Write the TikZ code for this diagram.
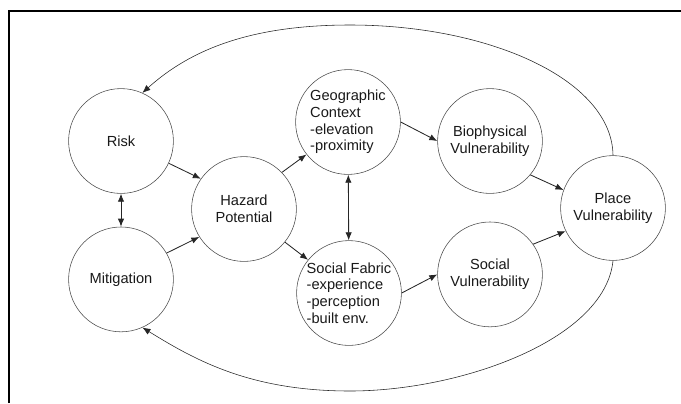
\documentclass[tikz,border=0pt]{standalone}
\usepackage{fontspec}
\setmainfont{Liberation Sans}
\usetikzlibrary{positioning, arrows.meta}

\begin{document}
\begin{tikzpicture}[
  x=0.025cm, y=-0.025cm,
  font=\fontsize{10.4}{11.8}\selectfont,
  factor/.style={circle, draw=black!70, thin, minimum size=2.62cm, inner sep=0pt, align=center, text=black!90},
  listed/.style={factor, align=left},
  arr/.style={-{Latex[length=2mm, width=1.6mm]}, black!85, semithick},
  darr/.style={{Latex[length=2mm, width=1.6mm]}-{Latex[length=2mm, width=1.6mm]}, black!85, semithick},
  backarc/.style={arr, thin}
]
\useasboundingbox (0,0) rectangle (681,403);
\draw[line width=2pt] (9,403) |- (681,11);
% ----- left column -----
\node[factor] (risk) at (121,141) {Risk};
\node[factor, below=8.25mm of risk] (mitig) {Mitigation};
\node[factor] (hazard) at (244,209) {Hazard\\Potential};
% ----- middle column -----
\node[listed] (geo) at (348,122) {Geographic\\Context\\-elevation\\-proximity};
\node[listed] (fabric) at (349,293) {Social Fabric\\-experience\\-perception\\-built env.};
% ----- right column -----
\node[factor] (biophys) at (490,141) {Biophysical\\Vulnerability};
\node[factor, below=7mm of biophys] (socvul) {Social\\Vulnerability};
\node[factor] (place) at (613,208) {Place\\Vulnerability};
% ----- connectors -----
\draw[arr] (risk.-25) -- (hazard.145);
\draw[arr] (mitig.30) -- (hazard.212);
\draw[darr] (risk) -- (mitig);
\draw[arr] (hazard.44) -- (geo.218);
\draw[arr] (hazard.-39) -- (fabric.141);
\draw[darr] (geo) -- (fabric);
\draw[arr] (geo.east) -- (biophys.west);
\draw[arr] (fabric.east) -- (socvul.west);
\draw[arr] (biophys.-40) -- (place.160);
\draw[arr] (socvul.35) -- (place.206);
% ----- feedback -----
\draw[backarc] (place.north) .. controls (612,80) and (490,25) .. (350,25)
  .. controls (250,25) and (190,50) .. (risk.66);
\draw[backarc] (place.south) .. controls (605,340) and (460,391) .. (350,391)
  .. controls (250,391) and (195,360) .. (mitig.-66);
\end{tikzpicture}
\end{document}
